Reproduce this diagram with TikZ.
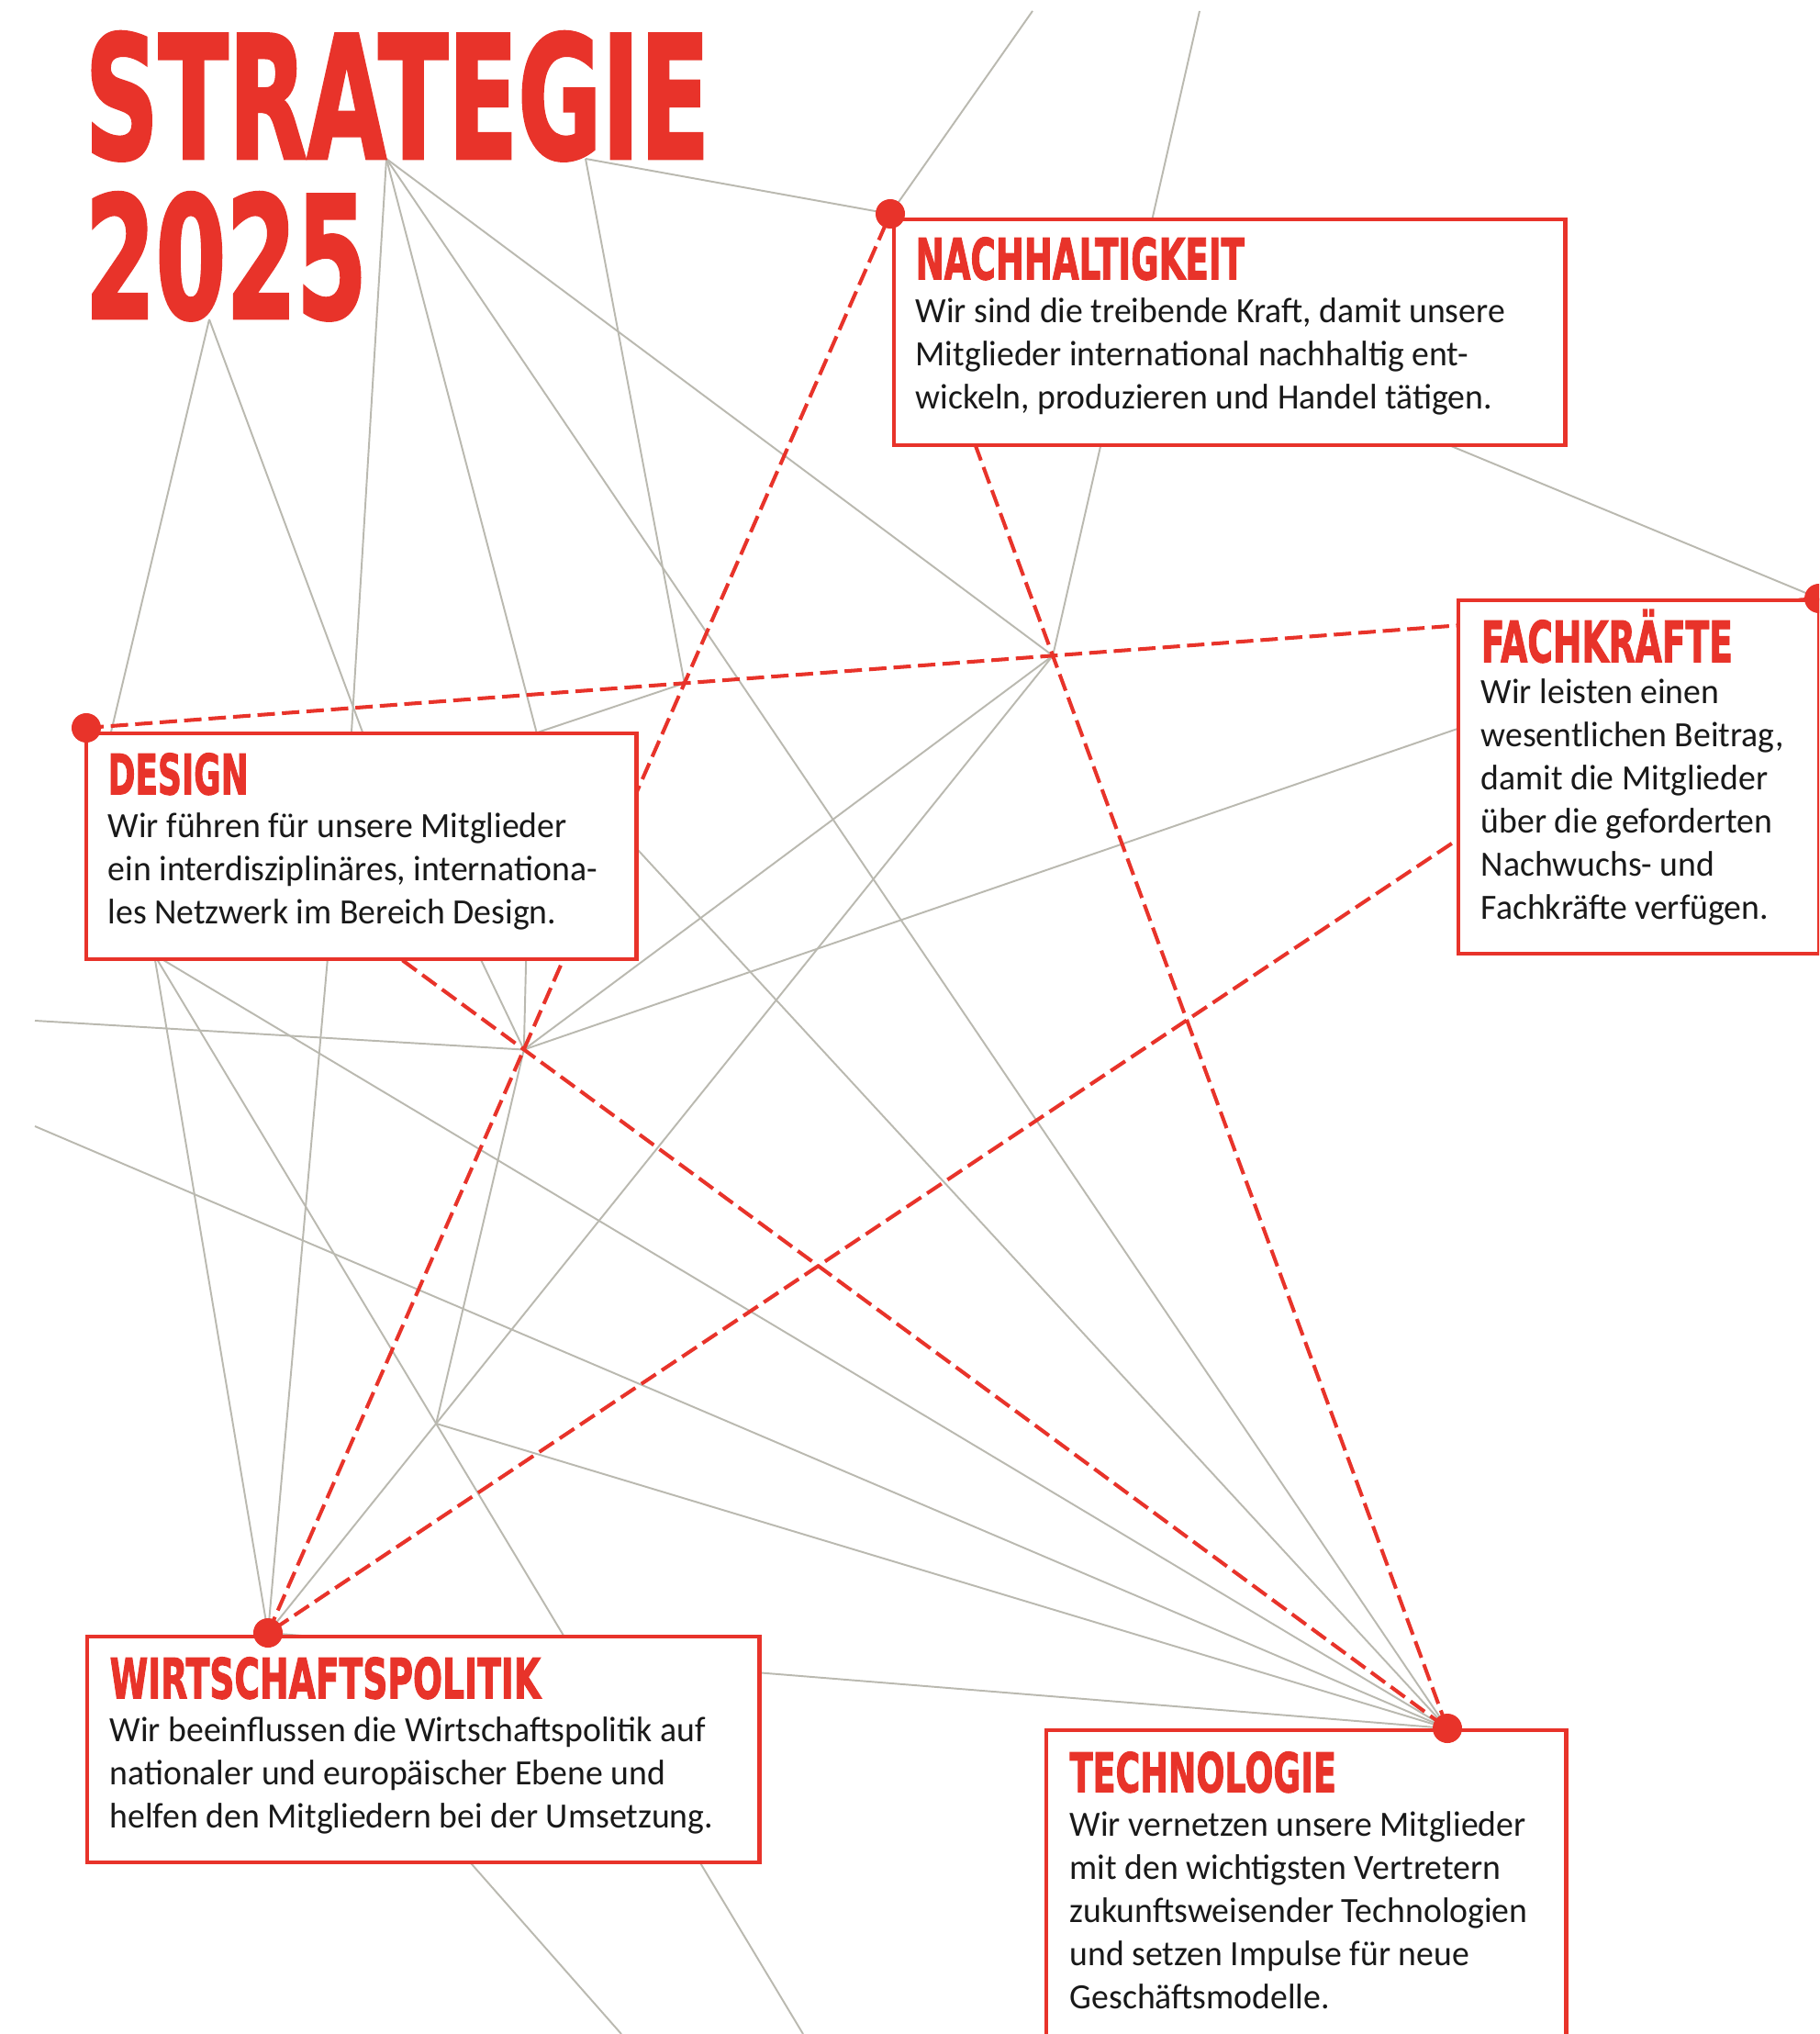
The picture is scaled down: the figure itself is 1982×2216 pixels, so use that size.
\documentclass[tikz,border=0pt]{standalone}
\usepackage{fontspec}
\usepackage{graphicx}
\setmainfont{Carlito}
\newfontfamily\bodyfont[FakeStretch=0.975]{Carlito}
\newfontfamily\capfont[BoldFeatures={FakeBold=2.2}]{DejaVu Sans}
\definecolor{sred}{RGB}{232,51,42}
\definecolor{netgray}{RGB}{186,185,176}
\definecolor{ink}{RGB}{25,25,25}
\newcommand\capsbox[3]{\resizebox{#1}{#2}{\capfont\bfseries\smash{#3}\vphantom{E}}}
\begin{document}
\begin{tikzpicture}[x=0.01cm,y=-0.01cm,
  net/.style={draw=netgray,line width=0.55pt},
  reddash/.style={draw=sred,line width=1.15pt,dash pattern=on 5.4pt off 2.2pt},
  card/.style={draw=sred,fill=white,line width=1.2pt,inner sep=0pt,anchor=north west},
  dot/.style={circle,fill=sred,inner sep=0pt,minimum size=0.32cm},
  body/.style={anchor=base west,inner sep=0pt,text=ink,font=\bodyfont\fontsize{11pt}{13pt}\selectfont},
  head/.style={anchor=south west,inner sep=0pt,text=sred}]
\useasboundingbox (0,0) rectangle (1982,2216);
\fill[white] (0,0) rectangle (1982,2216);
\clip (0,0) rectangle (1982,2216);

% hubs
\coordinate (A) at (421,173);
\coordinate (B) at (638,173);
\coordinate (C) at (228,348);
\coordinate (N) at (970,233);
\coordinate (D) at (94,793);
\coordinate (F) at (1982,652);
\coordinate (W) at (292,1779);
\coordinate (T) at (1577,1883);
\coordinate (R) at (168,1040);
\coordinate (H1) at (intersection of D--F and N--T);
\coordinate (H2) at (intersection of D--T and W--N);
\coordinate (Q) at (intersection of D--F and W--N);
\coordinate (Rb) at (875,2216);
\coordinate (H3) at (intersection of H1--W and R--Rb);
% free ends
\coordinate (a1) at (381,830);
\coordinate (a2) at (360,1010);
\coordinate (a3) at (593,830);
\coordinate (q1) at (490,830);
\coordinate (c1) at (118,810);
\coordinate (c2) at (407,830);
\coordinate (t1) at (1307,12);
\coordinate (t2) at (1125,12);
\coordinate (l1) at (38,1112);
\coordinate (l2) at (38,1227);
\coordinate (f1) at (1620,783);
\coordinate (d1) at (574,1010);
\coordinate (d2) at (507,1010);
\coordinate (d3) at (660,888);
\coordinate (wb) at (677,2216);

% grey network
\draw[net] (A) -- (a1);
\draw[net] (a2) -- (W);
\draw[net] (A) -- (a3);
\draw[net] (A) -- (T);
\draw[net] (A) -- (H1);
\draw[net] (B) -- (N);
\draw[net] (B) -- (Q);
\draw[net] (Q) -- (q1);
\draw[net] (C) -- (c1);
\draw[net] (C) -- (c2);
\draw[net] (N) -- (F);
\draw[net] (t1) -- (H1);
\draw[net] (t2) -- (N);
\draw[net] (l1) -- (H2);
\draw[net] (l2) -- (T);
\draw[net] (H2) -- (H1);
\draw[net] (H2) -- (f1);
\draw[net] (H2) -- (H3);
\draw[net] (H1) -- (W);
\draw[net] (R) -- (W);
\draw[net] (R) -- (T);
\draw[net] (R) -- (Rb);
\draw[net] (d1) -- (H2);
\draw[net] (d2) -- (H2);
\draw[net] (d3) -- (T);
\draw[net] (H3) -- (T);
\draw[net] (W) -- (T);
\draw[net] (W) -- (wb);

% red dashed links
\draw[reddash] (D) -- (F);
\draw[reddash] (W) -- (N);
\draw[reddash] (N) -- (T);
\draw[reddash] (F) -- (W);
\draw[reddash] (D) -- (T);

% title
\node[head] (title1) at (92,173) {\capsbox{6.80cm}{1.35cm}{STRATEGIE}};
\node[head] (title2) at (92,347) {\capsbox{3.07cm}{1.34cm}{2025}};

% cards
\node[card,minimum width=7.31cm,minimum height=2.46cm] (nbox) at (972,237) {};
\node[card,minimum width=3.93cm,minimum height=3.85cm] (fbox) at (1587,652) {};
\node[card,minimum width=5.99cm,minimum height=2.46cm] (dbox) at (92,797) {};
\node[card,minimum width=7.32cm,minimum height=2.46cm] (wbox) at (93,1781) {};
\node[card,minimum width=5.66cm,minimum height=3.60cm] (tbox) at (1138,1883) {};

% headings
\node[head] (nhead) at (997,305) {\capsbox{3.58cm}{0.45cm}{NACHHALTIGKEIT}};
\node[head] (fhead) at (1613,722) {\capsbox{2.74cm}{0.45cm}{FACHKRÄFTE}};
\node[head] (dhead) at (117,866) {\capsbox{1.53cm}{0.44cm}{DESIGN}};
\node[head] (whead) at (119,1851) {\capsbox{4.69cm}{0.44cm}{WIRTSCHAFTSPOLITIK}};
\node[head] (thead) at (1165,1953) {\capsbox{2.90cm}{0.43cm}{TECHNOLOGIE}};

% body texts
\node[body] (n1) at (997,352) {Wir sind die treibende Kraft, damit unsere};
\node[body] (n2) at (997,399) {Mitglieder international nachhaltig ent-};
\node[body] (n3) at (997,446) {wickeln, produzieren und Handel tätigen.};

\node[body] (f1t) at (1613,767) {Wir leisten einen};
\node[body] (f2t) at (1613,813) {wesentlichen Beitrag,};
\node[body] (f3t) at (1613,860) {damit die Mitglieder};
\node[body] (f4t) at (1613,907) {über die geforderten};
\node[body] (f5t) at (1613,954) {Nachwuchs- und};
\node[body] (f6t) at (1613,1001) {Fachkräfte verfügen.};

\node[body] (d1t) at (117,912) {Wir führen für unsere Mitglieder};
\node[body] (d2t) at (117,959) {ein interdisziplinäres, internationa-};
\node[body] (d3t) at (117,1006) {les Netzwerk im Bereich Design.};

\node[body] (w1t) at (119,1897) {Wir beeinflussen die Wirtschaftspolitik auf};
\node[body] (w2t) at (119,1944) {nationaler und europäischer Ebene und};
\node[body] (w3t) at (119,1991) {helfen den Mitgliedern bei der Umsetzung.};

\node[body] (t1t) at (1165,2000) {Wir vernetzen unsere Mitglieder};
\node[body] (t2t) at (1165,2047) {mit den wichtigsten Vertretern};
\node[body] (t3t) at (1165,2094) {zukunftsweisender Technologien};
\node[body] (t4t) at (1165,2141) {und setzen Impulse für neue};
\node[body] (t5t) at (1165,2188) {Geschäftsmodelle.};

% dots
\node[dot] (ndot) at (N) {};
\node[dot] (ddot) at (D) {};
\node[dot] (fdot) at (F) {};
\node[dot] (wdot) at (W) {};
\node[dot] (tdot) at (T) {};
\end{tikzpicture}
\end{document}
